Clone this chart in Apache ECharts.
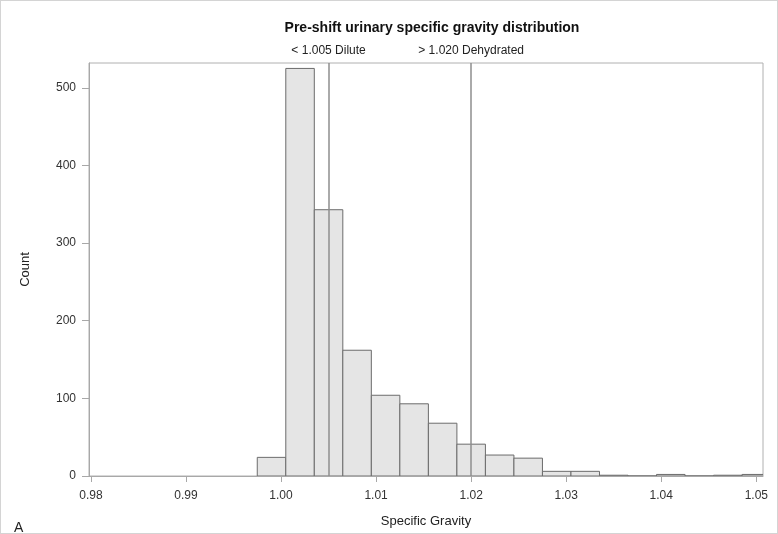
<!DOCTYPE html>
<html lang="en">
<head>
	<meta charset="UTF-8">
	<title>Pre-shift urinary specific gravity distribution</title>
	<style>
		body{margin:0;background:#fff;}
		#chart{width:776px;height:532px;border:1px solid #d4d4d4;}
	</style>
</head>
<body>
	<div id="chart"></div>
	<script type="text/javascript" src="https://cdn.jsdelivr.net/npm/echarts/dist/echarts.min.js"></script>
	<script type="text/javascript">
		// histogram bins (midpoints), bin width 0.003
		var binMids = [0.999, 1.002, 1.005, 1.008, 1.011, 1.014, 1.017, 1.020, 1.023,
			1.026, 1.029, 1.032, 1.035, 1.038, 1.041, 1.044, 1.047, 1.050];
		var counts = [24, 525, 343, 162, 104, 93, 68, 41, 27, 23, 6, 6, 1, 0, 2, 0, 1, 2];
		var binWidth = 0.003;
		var xTicks = [0.98, 0.99, 1.00, 1.01, 1.02, 1.03, 1.04, 1.05];
		var yTicks = [0, 100, 200, 300, 400, 500];
		var refLines = [1.005, 1.020];
		var refLabels = ['< 1.005 Dilute', '> 1.020 Dehydrated'];

		var font = '"Liberation Sans", Arial, sans-serif';
		var yMax = 532;
		var data = [];
		for (var i = 0; i < binMids.length; i++) {
			data.push([binMids[i], counts[i]]);
		}
		// vertical reference lines as explicit start/end pairs
		var markData = [];
		for (var j = 0; j < refLines.length; j++) {
			markData.push([
				{coord: [refLines[j], 0]},
				{coord: [refLines[j], yMax], label: {formatter: refLabels[j]}}
			]);
		}

		function renderBar(params, api) {
			var mid = api.value(0);
			var p0 = api.coord([mid - binWidth / 2, api.value(1)]);
			var p1 = api.coord([mid + binWidth / 2, 0]);
			return {
				type: 'rect',
				shape: {x: p0[0], y: p0[1], width: p1[0] - p0[0], height: p1[1] - p0[1]},
				style: {fill: '#e5e5e5', stroke: '#6c6c6c', lineWidth: 1}
			};
		}

		var myChart = echarts.init(document.getElementById('chart'));
		var option = {
			animation: false,
			textStyle: {fontFamily: font},
			title: [{
				text: 'Pre-shift urinary specific gravity distribution',
				left: 426,
				textAlign: 'center',
				top: 15,
				textStyle: {fontFamily: font, fontSize: 14, fontWeight: 'bold', color: '#111'}
			}, {
				text: 'A',
				left: 8,
				top: 515,
				textStyle: {fontFamily: font, fontSize: 14, fontWeight: 'normal', color: '#222'}
			}],
			grid: {
				left: 88, right: 14, top: 62, bottom: 57,
				show: true, borderColor: '#b0b0b0', borderWidth: 1
			},
			xAxis: {
				type: 'value',
				min: 0.9798,
				max: 1.0507,
				name: 'Specific Gravity',
				nameLocation: 'middle',
				nameGap: 39,
				nameTextStyle: {fontSize: 13, color: '#222'},
				axisLine: {lineStyle: {color: '#a8a8a8'}},
				axisTick: {show: true, length: 6, customValues: xTicks, lineStyle: {color: '#a8a8a8'}},
				axisLabel: {
					customValues: xTicks, margin: 14, fontSize: 12, color: '#333',
					formatter: function (v) { return v.toFixed(2); }
				},
				splitLine: {show: false}
			},
			yAxis: {
				type: 'value',
				min: 0,
				max: yMax,
				name: 'Count',
				nameLocation: 'middle',
				nameRotate: 90,
				nameGap: 57,
				nameTextStyle: {fontSize: 13, color: '#222'},
				axisLine: {show: true, lineStyle: {color: '#a8a8a8'}},
				axisTick: {show: true, length: 7, customValues: yTicks, lineStyle: {color: '#a8a8a8'}},
				axisLabel: {customValues: yTicks, margin: 13, fontSize: 12, color: '#333'},
				splitLine: {show: false}
			},
			series: [{
				type: 'custom',
				renderItem: renderBar,
				clip: true,
				data: data,
				markLine: {
					silent: true,
					symbol: 'none',
					lineStyle: {color: '#8e8e8e', type: 'solid', width: 1.5},
					label: {position: 'end', distance: 6, fontSize: 12, color: '#222', fontFamily: font},
					data: markData
				}
			}]
		};
		myChart.setOption(option);
	</script>
</body>
</html>
